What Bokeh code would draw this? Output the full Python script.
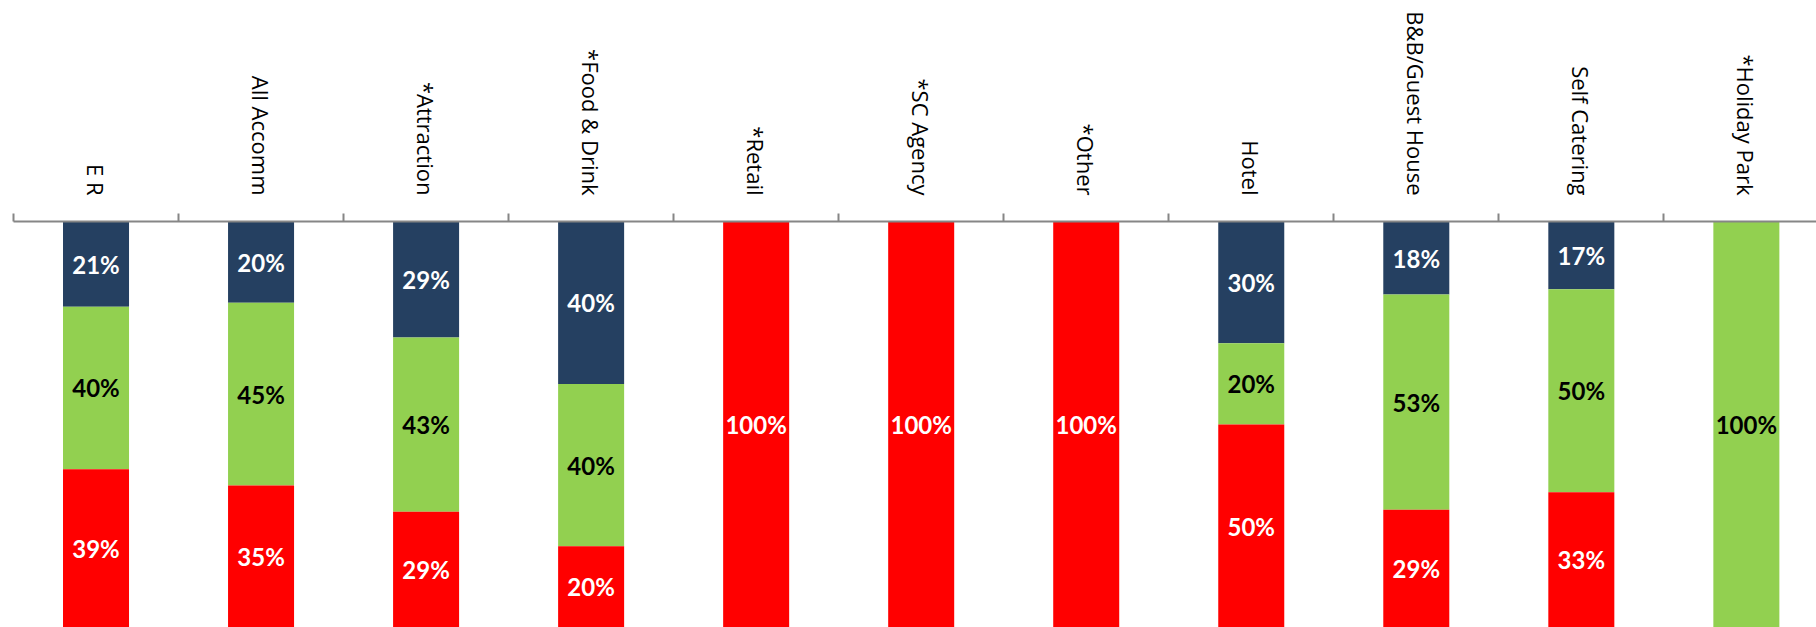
import math
from bokeh.plotting import figure
from bokeh.models import ColumnDataSource, Range1d, FixedTicker
from bokeh.core.properties import value
from bokeh.embed import file_html
from bokeh.resources import INLINE

categories = ["E R", "All Accomm", "*Attraction", "*Food & Drink", "*Retail",
              "*SC Agency", "*Other", "Hotel", "B&B/Guest House",
              "Self Catering", "*Holiday Park"]
navy_vals = [21, 20, 28.6, 40, 0, 0, 0, 30, 18, 16.7, 0]
green_vals = [40, 45, 42.9, 40, 0, 0, 0, 20, 53, 50, 100]
red_vals = [39, 35, 28.6, 20, 100, 100, 100, 50, 29, 33.3, 0]

NAVY = "#254061"
GREEN = "#92D050"
RED = "#FF0000"

n = len(categories)
xs = list(range(n))

p = figure(width=1816, height=627, output_backend="svg", toolbar_location=None,
           x_axis_location="above", y_axis_location=None,
           x_range=Range1d(-0.5, 10.425), y_range=Range1d(100, 0),
           min_border_left=13, min_border_right=0, min_border_bottom=0,
           min_border_top=221)
p.outline_line_color = None
p.xgrid.visible = False
p.ygrid.visible = False
p.background_fill_color = "white"
p.border_fill_color = "white"

# stacked segments, from the axis downward: navy, green, red
series = [(navy_vals, NAVY, "white"), (green_vals, GREEN, "black"), (red_vals, RED, "white")]
base = [0.0] * n
for vals, col, tcol in series:
    top = base[:]
    bottom = [b + v for b, v in zip(base, vals)]
    src = ColumnDataSource(dict(x=xs, top=top, bottom=bottom))
    p.vbar(x="x", width=0.4, top="top", bottom="bottom", source=src,
           fill_color=col, line_color=None)
    lx, ly, lt = [], [], []
    for i, v in enumerate(vals):
        if v > 0:
            lx.append(i)
            ly.append((top[i] + bottom[i]) / 2)
            lt.append(f"{round(v)}%")
    lsrc = ColumnDataSource(dict(x=lx, y=ly, t=lt))
    p.text(x="x", y="y", text="t", source=lsrc, text_align="center",
           text_baseline="middle", text_color=tcol,
           text_font=value("Lato"), text_font_style="bold",
           text_font_size="24px")
    base = bottom

ax = p.xaxis[0]
ax.ticker = FixedTicker(ticks=xs, minor_ticks=[i - 0.5 for i in range(n + 1)])
ax.major_label_overrides = {i: c for i, c in enumerate(categories)}
ax.major_label_orientation = -math.pi / 2
ax.major_label_text_font = "Open Sans"
ax.major_label_text_font_size = "22px"
ax.major_label_text_color = "black"
ax.major_label_standoff = 18
ax.major_tick_line_color = None
ax.major_tick_in = 0
ax.major_tick_out = 0
ax.minor_tick_in = 0
ax.minor_tick_out = 8
ax.minor_tick_line_color = "#868686"
ax.minor_tick_line_width = 2
ax.axis_line_color = "#868686"
ax.axis_line_width = 2

open("out.html", "w").write(file_html(p, INLINE))
